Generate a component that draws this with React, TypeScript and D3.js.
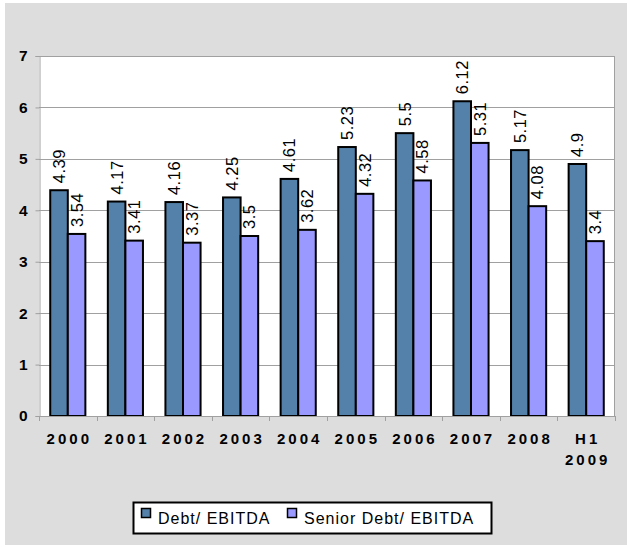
import { useEffect, useRef } from "react";
import * as d3 from "d3";

const categories = ["2000", "2001", "2002", "2003", "2004", "2005", "2006", "2007", "2008", "H1\n2009"];
const debtEbitda = [4.39, 4.17, 4.16, 4.25, 4.61, 5.23, 5.5, 6.12, 5.17, 4.9];
const seniorDebtEbitda = [3.54, 3.41, 3.37, 3.5, 3.62, 4.32, 4.58, 5.31, 4.08, 3.4];
const seriesNames = ["Debt/ EBITDA", "Senior Debt/ EBITDA"];
const seriesColors = ["#5381a9", "#9999ff"];
const yTicks = [0, 1, 2, 3, 4, 5, 6, 7];

const W = 627;
const H = 547;
const FONT = "'Liberation Sans', Arial, sans-serif";

export default function App() {
  const ref = useRef<SVGSVGElement | null>(null);

  useEffect(() => {
    const svg = d3.select(ref.current!);
    svg.selectAll("*").remove();

    const plot = { left: 39, right: 615, top: 56, bottom: 416 };

    // gray chart area
    svg.append("rect").attr("x", 5).attr("y", 3).attr("width", W - 5).attr("height", H - 5).attr("fill", "#dddddd");
    svg
      .append("rect")
      .attr("x", plot.left)
      .attr("y", plot.top)
      .attr("width", plot.right - plot.left)
      .attr("height", plot.bottom - plot.top)
      .attr("fill", "#ffffff");

    const x = d3
      .scaleBand<string>()
      .domain(categories)
      .range([plot.left, plot.right])
      .paddingInner(0.39)
      .paddingOuter(0.195);
    const y = d3.scaleLinear().domain([0, 7]).range([plot.bottom, plot.top]);

    // gridlines
    svg
      .append("g")
      .selectAll("line")
      .data(yTicks.slice(1))
      .join("line")
      .attr("x1", plot.left)
      .attr("x2", plot.right)
      .attr("y1", (d) => Math.round(y(d)) + 0.5)
      .attr("y2", (d) => Math.round(y(d)) + 0.5)
      .attr("stroke", "#a0a0a0");
    svg
      .append("line")
      .attr("x1", plot.right - 0.5)
      .attr("x2", plot.right - 0.5)
      .attr("y1", plot.top)
      .attr("y2", plot.bottom)
      .attr("stroke", "#a0a0a0");

    // y axis
    const yAxis = svg
      .append("g")
      .attr("transform", `translate(${plot.left + 0.5},0)`)
      .call(d3.axisLeft(y).tickValues(yTicks).tickSize(4).tickPadding(8).tickFormat(d3.format("d")));
    yAxis.select(".domain").attr("stroke", "#a0a0a0");
    yAxis.selectAll(".tick line").attr("stroke", "#a0a0a0");
    yAxis
      .selectAll("text")
      .style("font", `bold 15.5px ${FONT}`)
      .attr("fill", "#000");

    // bars
    const half = x.bandwidth() / 2;
    const series = [debtEbitda, seniorDebtEbitda];
    series.forEach((vals, si) => {
      const g = svg.append("g");
      g.selectAll("rect")
        .data(vals)
        .join("rect")
        .attr("x", (_, i) => x(categories[i])! + si * half)
        .attr("y", (d) => y(d))
        .attr("width", half)
        .attr("height", (d) => y(0) - y(d))
        .attr("fill", seriesColors[si])
        .attr("stroke", "#000")
        .attr("stroke-width", 2);
      g.selectAll("text")
        .data(vals)
        .join("text")
        .attr("transform", (d, i) => {
          const cx = x(categories[i])! + si * half + half / 2;
          return `translate(${cx + 6},${y(d) - 7}) rotate(-90)`;
        })
        .style("font", `16.5px ${FONT}`)
        .style("letter-spacing", "0.5px")
        .attr("fill", "#000")
        .text((d) => String(d));
    });

    // x axis
    svg
      .append("line")
      .attr("x1", plot.left)
      .attr("x2", plot.right)
      .attr("y1", plot.bottom + 0.5)
      .attr("y2", plot.bottom + 0.5)
      .attr("stroke", "#a0a0a0");
    const step = x.step();
    svg
      .append("g")
      .selectAll("line")
      .data(d3.range(categories.length + 1))
      .join("line")
      .attr("x1", (i) => Math.round(plot.left + i * step) + 0.5)
      .attr("x2", (i) => Math.round(plot.left + i * step) + 0.5)
      .attr("y1", plot.bottom)
      .attr("y2", plot.bottom + 5)
      .attr("stroke", "#a0a0a0");

    const xl = svg
      .append("g")
      .selectAll("text")
      .data(categories)
      .join("text")
      .attr("x", (d) => x(d)! + x.bandwidth() / 2 + 1.5)
      .attr("y", plot.bottom + 28)
      .attr("text-anchor", "middle")
      .style("font", `bold 15px ${FONT}`)
      .style("letter-spacing", "3px")
      .attr("fill", "#000");
    xl.each(function (d) {
      const t = d3.select(this);
      d.split("\n").forEach((line, li) => {
        t.append("tspan")
          .attr("x", x(d)! + x.bandwidth() / 2 + 1.5)
          .attr("dy", li === 0 ? 0 : 21)
          .text(line);
      });
    });

    // legend
    const legend = svg.append("g");
    legend
      .append("rect")
      .attr("x", 133.5)
      .attr("y", 502.5)
      .attr("width", 358)
      .attr("height", 31)
      .attr("fill", "#fff")
      .attr("stroke", "#000")
      .attr("stroke-width", 2);
    const legendX = [141, 287];
    seriesNames.forEach((name, i) => {
      legend
        .append("rect")
        .attr("x", legendX[i] + 0.5)
        .attr("y", 508.5)
        .attr("width", 9)
        .attr("height", 9)
        .attr("fill", seriesColors[i])
        .attr("stroke", "#000")
        .attr("stroke-width", 1.5);
      legend
        .append("text")
        .attr("x", legendX[i] + 17)
        .attr("y", 524)
        .style("font", `16px ${FONT}`)
        .style("letter-spacing", "1px")
        .attr("fill", "#000")
        .text(name);
    });
  }, []);

  return (
    <div style={{ position: "absolute", left: 0, top: 0 }}>
      <svg ref={ref} width={W} height={H} style={{ display: "block" }} />
    </div>
  );
}
